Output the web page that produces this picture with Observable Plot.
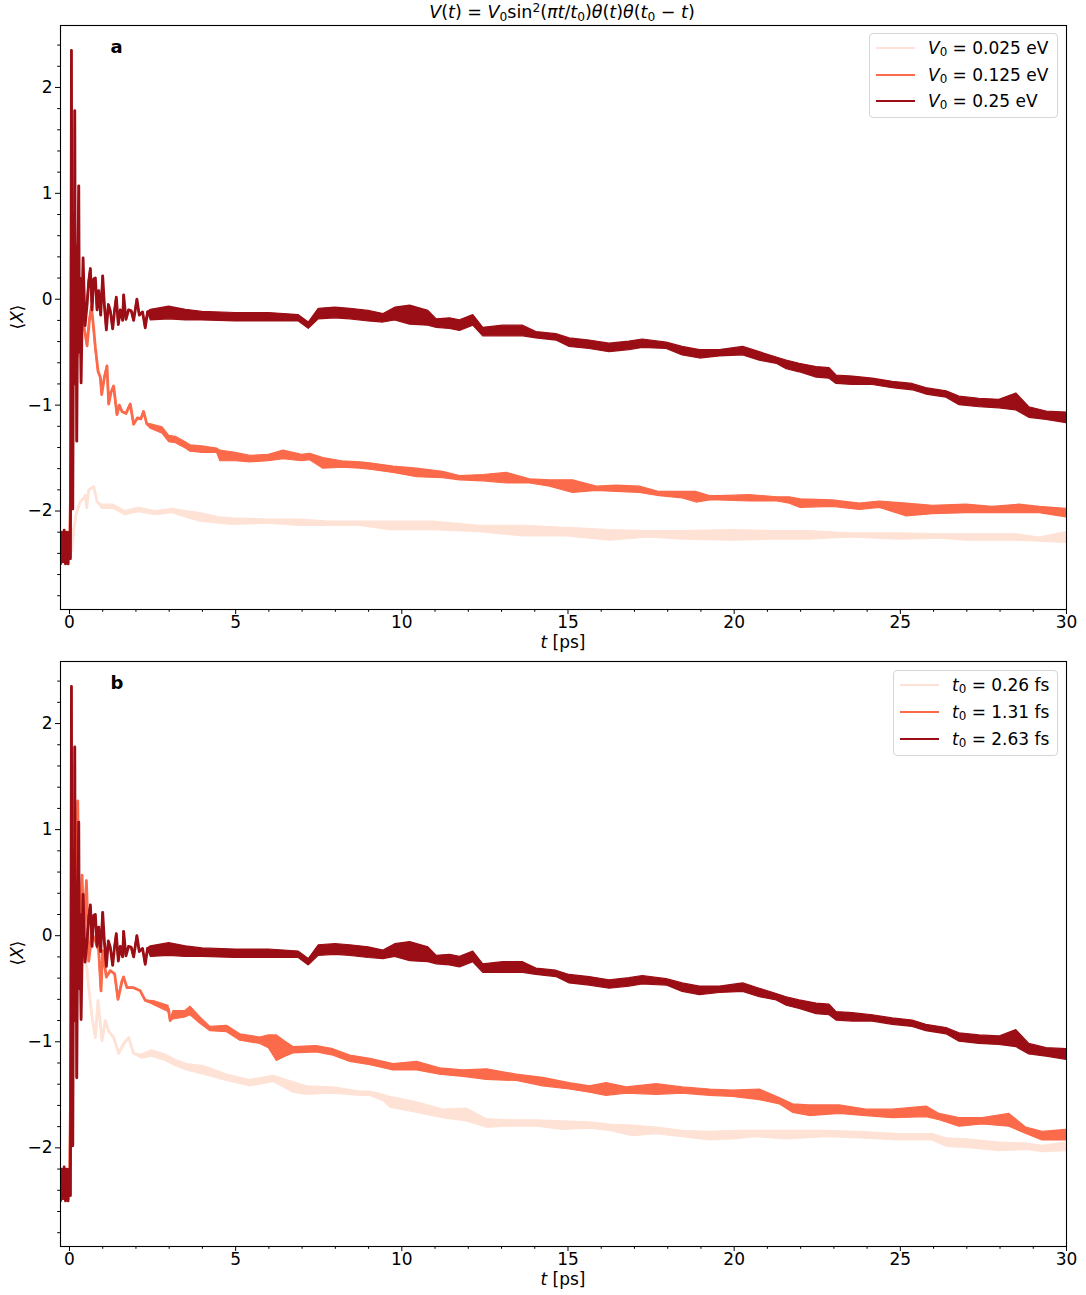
<!DOCTYPE html>
<html>
<head>
<meta charset="utf-8">
<script src="https://cdn.jsdelivr.net/npm/d3@7"></script>
<script src="https://cdn.jsdelivr.net/npm/@observablehq/plot@0.6"></script>
<style>
  html, body { margin:0; padding:0; background:#fff; overflow:hidden; }
  #fig { position:relative; width:1086px; height:1295px; background:#fff; font-family:"DejaVu Sans", sans-serif; color:#000; }
  .abs { position:absolute; white-space:nowrap; line-height:1; }
  sub, sup { font-size:0.7em; line-height:0; }
  sub { vertical-align:-0.25em; }
  sup { vertical-align:0.55em; }
  .legend { position:absolute; background:#fff; border:1px solid #d6d6d6; border-radius:4px; box-sizing:border-box; font-size:17px; }
  .legend .sw { position:absolute; height:2px; }
  .legend .lab { position:absolute; transform:translateY(-50%); white-space:nowrap; line-height:1; }
</style>
</head>
<body>
<div id="fig"></div>
<script>
// ---------- data (t [ps], <X>, half-width of fast-oscillation band) ----------
const colLight = "#fee2d5";
const colMid = "#fb6a4a";
const colDark = "#9b0e15";

const xTicks = [0, 5, 10, 15, 20, 25, 30];
const xMinor = [1,2,3,4,6,7,8,9,11,12,13,14,16,17,18,19,21,22,23,24,26,27,28,29];
const yTicks = [-2, -1, 0, 1, 2];
const yMinor = [-2.8,-2.6,-2.4,-2.2,-1.8,-1.6,-1.4,-1.2,-0.8,-0.6,-0.4,-0.2,0.2,0.4,0.6,0.8,1.2,1.4,1.6,1.8,2.2,2.4];

const legendA = ["0.025", "0.125", "0.25"];
const legendB = ["0.26", "1.31", "2.63"];

// strongest drive (identical in both panels)
const darkSeries = [
  [-0.27,-2.5,0],[-0.24,-2.2,0],[-0.2,-2.48,0],[-0.16,-2.18,0],[-0.12,-2.5,0],[-0.08,-2.2,0],[-0.04,-2.5,0],
  [0.0,-2.2,0],[0.03,-2.45,0],[0.06,2.35,0],[0.075,-0.9,0],[0.085,0.6,0],[0.1,-1.98,0],[0.13,0.8,0],[0.145,-0.8,0],
  [0.16,1.78,0],[0.18,-0.6,0],[0.2,0.5,0],[0.22,-1.34,0],[0.25,0.3,0],[0.28,1.07,0],[0.3,-0.5,0],[0.32,0.2,0],
  [0.35,-0.79,0],[0.41,0.39,0],[0.47,-0.25,0],[0.53,-0.05,0],
  [0.58,0.17,0],[0.63,0.29,0],[0.68,-0.1,0],[0.73,0.19,0],[0.78,0.2,0],[0.83,-0.1,0],[0.88,0.08,0],
  [0.94,-0.15,0],[1.0,0.22,0],[1.05,-0.05,0],[1.11,-0.29,0],[1.17,-0.05,0],[1.23,-0.11,0],[1.3,-0.28,0],
  [1.36,-0.1,0],[1.41,0.02,0],[1.47,-0.24,0],[1.53,-0.1,0],[1.6,-0.2,0],[1.63,0.04,0],[1.7,-0.19,0],
  [1.78,-0.1,0],[1.86,-0.11,0],[1.93,-0.2,0],[2.03,0.0,0],[2.1,-0.15,0],[2.2,-0.12,0],[2.28,-0.27,0],
  [2.35,-0.12,0],[2.45,-0.15,0.05],[3.0,-0.13,0.06],[3.5,-0.15,0.05],[4.0,-0.16,0.04],[5.0,-0.17,0.04],
  [6.0,-0.17,0.04],[6.9,-0.18,0.03],[7.2,-0.25,0.03],[7.5,-0.14,0.05],[8.0,-0.13,0.05],[8.45,-0.14,0.05],
  [9.0,-0.16,0.05],[9.45,-0.18,0.04],[9.8,-0.14,0.06],[10.25,-0.15,0.09],[10.8,-0.18,0.07],[11.05,-0.23,0.04],
  [11.45,-0.23,0.05],[11.75,-0.25,0.05],[12.15,-0.2,0.05],[12.45,-0.31,0.04],[13.05,-0.3,0.05],[13.65,-0.3,0.05],
  [14.05,-0.34,0.03],[14.65,-0.36,0.03],[15.05,-0.41,0.04],[15.65,-0.43,0.04],[16.25,-0.46,0.04],[16.85,-0.44,0.04],
  [17.25,-0.42,0.04],[17.97,-0.44,0.03],[18.45,-0.49,0.04],[18.97,-0.52,0.04],[19.57,-0.51,0.03],[20.27,-0.49,0.04],
  [20.77,-0.54,0.04],[21.28,-0.58,0.03],[21.58,-0.62,0.04],[21.97,-0.65,0.04],[22.48,-0.69,0.05],[22.87,-0.7,0.05],
  [23.08,-0.76,0.04],[23.57,-0.77,0.04],[24.17,-0.78,0.03],[24.77,-0.81,0.03],[25.37,-0.83,0.03],[25.78,-0.87,0.03],
  [26.39,-0.9,0.03],[26.78,-0.96,0.04],[27.38,-0.98,0.04],[27.98,-0.99,0.04],[28.49,-0.97,0.08],[28.88,-1.07,0.05],
  [29.4,-1.1,0.04],[30.0,-1.12,0.05]
];

// panel a: V0 = 0.125 eV
const midA = [
  [-0.27,-2.45,0],[0.0,-2.4,0],[0.05,-1.5,0],[0.1,-0.8,0],[0.2,-0.6,0],[0.3,-0.4,0],[0.4,-0.2,0],[0.46,-0.3,0],
  [0.53,-0.44,0],[0.6,-0.2,0],[0.66,-0.07,0],[0.72,-0.25,0],[0.78,-0.46,0],[0.86,-0.68,0],[0.93,-0.74,0],
  [0.97,-0.9,0],[1.05,-0.74,0],[1.13,-0.63,0],[1.18,-0.99,0],[1.25,-0.88,0],[1.33,-0.82,0],[1.43,-1.09,0],
  [1.5,-1.0,0],[1.58,-1.06,0],[1.7,-1.08,0],[1.83,-0.99,0],[1.93,-1.18,0],[2.05,-1.12,0],[2.15,-1.13,0],
  [2.23,-1.06,0],[2.33,-1.18,0],[2.43,-1.2,0.02],[2.8,-1.24,0.03],[3.0,-1.32,0.03],[3.2,-1.33,0.03],
  [3.5,-1.38,0.03],[3.64,-1.41,0.03],[4.0,-1.42,0.03],[4.44,-1.43,0.02],[4.54,-1.48,0.05],[5.0,-1.49,0.04],
  [5.44,-1.51,0.03],[6.0,-1.5,0.03],[6.44,-1.47,0.04],[7.0,-1.5,0.03],[7.24,-1.49,0.03],[7.64,-1.55,0.05],
  [8.2,-1.56,0.03],[8.75,-1.57,0.03],[9.05,-1.58,0.03],[9.75,-1.61,0.03],[10.46,-1.64,0.04],[11.24,-1.66,0.03],
  [11.75,-1.69,0.02],[12.45,-1.69,0.03],[13.16,-1.69,0.05],[13.86,-1.72,0.02],[14.46,-1.74,0.03],[15.15,-1.77,0.06],
  [15.87,-1.79,0.02],[16.47,-1.79,0.03],[17.16,-1.8,0.03],[17.76,-1.84,0.02],[18.45,-1.85,0.03],[18.87,-1.87,0.05],
  [19.27,-1.88,0.02],[19.57,-1.88,0.02],[20.47,-1.88,0.03],[21.3,-1.89,0.02],[21.67,-1.9,0.03],[22.0,-1.93,0.04],
  [22.97,-1.93,0.03],[23.78,-1.96,0.03],[24.38,-1.94,0.03],[25.19,-1.99,0.06],[25.97,-1.99,0.04],[26.99,-1.98,0.04],
  [27.77,-1.99,0.03],[28.58,-1.98,0.04],[29.19,-1.99,0.03],[30.0,-2.02,0.04]
];

// panel a: V0 = 0.025 eV
const lightA = [
  [-0.27,-2.45,0],[0.0,-2.45,0],[0.03,-2.41,0],[0.08,-2.35,0],[0.13,-2.17,0],[0.2,-2.03,0],[0.33,-1.91,0],
  [0.43,-1.88,0],[0.48,-1.85,0],[0.52,-1.97,0],[0.58,-1.8,0],[0.73,-1.77,0],[0.83,-1.91,0],[0.98,-1.96,0.02],
  [1.33,-1.96,0.02],[1.68,-2.02,0.02],[2.08,-1.99,0.02],[2.58,-2.02,0.02],[3.1,-2.0,0.02],[3.49,-2.03,0.03],
  [3.94,-2.06,0.04],[4.5,-2.09,0.03],[4.94,-2.1,0.03],[5.95,-2.1,0.02],[6.94,-2.11,0.03],[7.8,-2.12,0.02],
  [8.75,-2.12,0.02],[9.65,-2.14,0.04],[10.95,-2.14,0.04],[12.35,-2.17,0.03],[13.65,-2.19,0.05],[14.97,-2.2,0.04],
  [16.26,-2.23,0.05],[17.46,-2.22,0.03],[18.45,-2.23,0.04],[19.97,-2.23,0.05],[21.2,-2.23,0.04],[22.27,-2.23,0.04],
  [23.47,-2.23,0.02],[24.98,-2.24,0.03],[26.18,-2.24,0.02],[26.99,-2.25,0.03],[28.49,-2.25,0.03],[29.19,-2.27,0.02],
  [30.0,-2.25,0.05]
];

// panel b: t0 = 1.31 fs
const midB = [
  [-0.27,-2.45,0],[0.0,-2.4,0],[0.05,-1.0,0],[0.1,0.2,0],[0.15,-0.5,0],[0.2,0.6,0],[0.25,1.27,0],[0.3,-0.2,0],
  [0.38,0.57,0],[0.43,0.0,0],[0.51,0.52,0],[0.55,0.11,0],[0.58,-0.24,0],[0.68,0.02,0],[0.78,-0.05,0],
  [0.88,-0.14,0],[0.95,-0.52,0],[1.0,-0.14,0],[1.11,-0.39,0],[1.23,-0.33,0],[1.36,-0.36,0],[1.46,-0.6,0],
  [1.58,-0.43,0],[1.63,-0.39,0],[1.73,-0.49,0],[1.93,-0.49,0],[2.13,-0.52,0],[2.28,-0.61,0],[2.58,-0.64,0.02],
  [2.98,-0.69,0.03],[3.03,-0.8,0],[3.13,-0.75,0.04],[3.49,-0.74,0.03],[3.64,-0.71,0.04],[3.94,-0.8,0.03],
  [4.24,-0.88,0.02],[4.74,-0.88,0.03],[5.14,-0.96,0.03],[5.74,-0.99,0.03],[6.0,-1.0,0.06],[6.24,-1.06,0.12],
  [6.5,-1.07,0.07],[6.74,-1.08,0.03],[7.44,-1.07,0.03],[7.94,-1.1,0.03],[8.45,-1.16,0.03],[9.05,-1.19,0.03],
  [9.75,-1.24,0.03],[10.46,-1.23,0.04],[11.15,-1.28,0.03],[11.85,-1.3,0.03],[12.56,-1.31,0.05],[13.46,-1.34,0.03],
  [14.25,-1.38,0.04],[15.05,-1.42,0.03],[15.66,-1.45,0.03],[16.16,-1.45,0.06],[16.77,-1.46,0.03],[17.67,-1.45,0.05],
  [18.45,-1.46,0.03],[19.27,-1.48,0.03],[19.97,-1.49,0.03],[20.77,-1.5,0.05],[21.37,-1.56,0.03],[21.77,-1.63,0.04],
  [22.27,-1.65,0.05],[23.17,-1.64,0.04],[23.98,-1.67,0.03],[24.77,-1.68,0.04],[25.79,-1.66,0.05],[26.18,-1.71,0.03],
  [26.78,-1.76,0.04],[27.48,-1.75,0.03],[28.28,-1.74,0.06],[28.79,-1.84,0.03],[29.28,-1.89,0.04],[30.0,-1.88,0.05]
];

// panel b: t0 = 0.26 fs
const lightB = [
  [-0.27,-2.45,0],[0.0,-2.4,0],[0.05,-1.8,0],[0.1,-0.8,0],[0.15,-0.2,0],[0.2,0.3,0],[0.25,0.6,0],[0.3,0.5,0],
  [0.35,0.3,0],[0.43,-0.02,0],[0.53,-0.33,0],[0.58,-0.49,0],[0.68,-0.77,0],[0.78,-0.96,0],[0.86,-0.61,0],
  [0.98,-0.99,0],[1.08,-0.8,0],[1.18,-0.9,0],[1.33,-0.96,0],[1.48,-1.11,0],[1.63,-1.02,0],[1.78,-0.96,0],
  [1.93,-1.11,0],[2.18,-1.14,0.02],[2.48,-1.11,0.03],[2.89,-1.15,0.03],[3.19,-1.2,0.03],[3.54,-1.24,0.03],
  [4.04,-1.27,0.04],[4.74,-1.34,0.03],[5.44,-1.39,0.03],[6.14,-1.35,0.03],[6.74,-1.43,0.05],[7.14,-1.46,0.04],
  [7.94,-1.46,0.03],[8.75,-1.49,0.02],[9.05,-1.49,0.02],[9.45,-1.53,0.03],[9.65,-1.57,0.05],[10.46,-1.62,0.05],
  [11.24,-1.68,0.04],[11.95,-1.69,0.06],[12.56,-1.77,0.04],[13.26,-1.77,0.03],[14.07,-1.77,0.03],[14.85,-1.79,0.04],
  [15.66,-1.79,0.03],[16.26,-1.81,0.03],[16.95,-1.84,0.05],[17.67,-1.84,0.03],[18.45,-1.87,0.03],[19.27,-1.89,0.04],
  [19.97,-1.88,0.04],[20.67,-1.87,0.03],[21.58,-1.88,0.04],[22.78,-1.87,0.03],[23.78,-1.88,0.03],[24.98,-1.9,0.03],
  [25.97,-1.9,0.03],[26.39,-1.95,0.04],[26.99,-1.96,0.04],[27.98,-1.99,0.04],[28.79,-1.99,0.03],[29.28,-2.01,0.03],
  [30.0,-1.99,0.04]
];

// ---------- drawing ----------
const toObj = arr => arr.map(([t, y, w]) => ({t, y, w}));

function seriesMarks(arr, color) {
  const d = toObj(arr);
  return [
    Plot.areaY(d, {x: "t", y1: r => r.y - r.w, y2: r => r.y + r.w, fill: color, stroke: color, strokeWidth: 1.2, clip: true}),
    Plot.line(d, {x: "t", y: "y", stroke: color, strokeWidth: 2.8, strokeLinejoin: "round", clip: true})
  ];
}

function panel(series, letter, height, mTop, mBottom) {
  return Plot.plot({
    width: 1086, height, marginTop: mTop, marginBottom: mBottom, marginLeft: 60, marginRight: 20,
    x: {domain: [-0.27, 30]},
    y: {domain: [-2.93, 2.585]},
    style: {fontFamily: "DejaVu Sans", fontSize: "17px", background: "transparent", color: "black", overflow: "visible"},
    marks: [
      ...series.flatMap(([arr, c]) => seriesMarks(arr, c)),
      Plot.frame({stroke: "black", strokeWidth: 1.1}),
      Plot.axisX(xTicks, {tickSize: 5, tickPadding: 1.5, label: null, stroke: "black", tickFormat: "d"}),
      Plot.axisX(xMinor, {tickSize: 2.8, text: null, label: null, stroke: "black"}),
      Plot.axisY(yTicks, {tickSize: 5, tickPadding: 3, label: null, stroke: "black", tickFormat: "d"}),
      Plot.axisY(yMinor, {tickSize: 2.8, text: null, label: null, stroke: "black"}),
      Plot.text([letter], {frameAnchor: "top-left", dx: 50, dy: 22, text: d => d, fontWeight: "bold", fontSize: 18, textAnchor: "start", lineAnchor: "middle"})
    ]
  });
}

const fig = document.getElementById("fig");

const svgA = panel([[lightA, colLight], [midA, colMid], [darkSeries, colDark]], "a", 640, 25, 31);
svgA.style.position = "absolute"; svgA.style.left = "0px"; svgA.style.top = "0px";
fig.appendChild(svgA);

const svgB = panel([[lightB, colLight], [midB, colMid], [darkSeries, colDark]], "b", 655, 21, 49);
svgB.style.position = "absolute"; svgB.style.left = "0px"; svgB.style.top = "640px";
fig.appendChild(svgB);

function addText(html, left, top, opts = {}) {
  const el = document.createElement("div");
  el.className = "abs";
  el.innerHTML = html;
  el.style.left = left + "px";
  el.style.top = top + "px";
  el.style.fontSize = (opts.size || 17) + "px";
  el.style.transform = opts.transform || "translate(-50%, -50%)";
  fig.appendChild(el);
  return el;
}

// title
addText('<i>V</i>(<i>t</i>) = <i>V</i><sub>0</sub>sin<sup>2</sup>(<i>πt</i>/<i>t</i><sub>0</sub>)<i>θ</i>(<i>t</i>)<i>θ</i>(<i>t</i><sub>0</sub> − <i>t</i>)', 562, 13, {size: 17.5});
// x labels
addText('<i>t</i> [ps]', 563, 642);
addText('<i>t</i> [ps]', 563, 1279);
// y labels
addText('⟨<i>X</i>⟩', 17, 317, {transform: "translate(-50%, -50%) rotate(-90deg)"});
addText('⟨<i>X</i>⟩', 17, 953, {transform: "translate(-50%, -50%) rotate(-90deg)"});

function legend(left, top, width, height, swX0, swX1, labX, rowYs, labels) {
  const box = document.createElement("div");
  box.className = "legend";
  box.style.left = left + "px"; box.style.top = top + "px";
  box.style.width = width + "px"; box.style.height = height + "px";
  const cols = [colLight, colMid, colDark];
  labels.forEach((lab, i) => {
    const sw = document.createElement("div");
    sw.className = "sw";
    sw.style.left = (swX0 - left) + "px"; sw.style.width = (swX1 - swX0) + "px";
    sw.style.top = (rowYs[i] - top - 1.5) + "px";
    sw.style.height = "2.5px";
    sw.style.background = cols[i];
    box.appendChild(sw);
    const tx = document.createElement("div");
    tx.className = "lab";
    tx.style.left = (labX - left) + "px";
    tx.style.top = (rowYs[i] - top) + "px";
    tx.innerHTML = lab;
    box.appendChild(tx);
  });
  fig.appendChild(box);
}

legend(869, 33, 189, 85, 875, 914, 927, [47, 74, 100],
  legendA.map(v => `<i>V</i><sub>0</sub> = ${v} eV`));
legend(893, 670, 165, 86, 899, 938, 951, [684, 711, 738],
  legendB.map(v => `<i>t</i><sub>0</sub> = ${v} fs`));
</script>
</body>
</html>
